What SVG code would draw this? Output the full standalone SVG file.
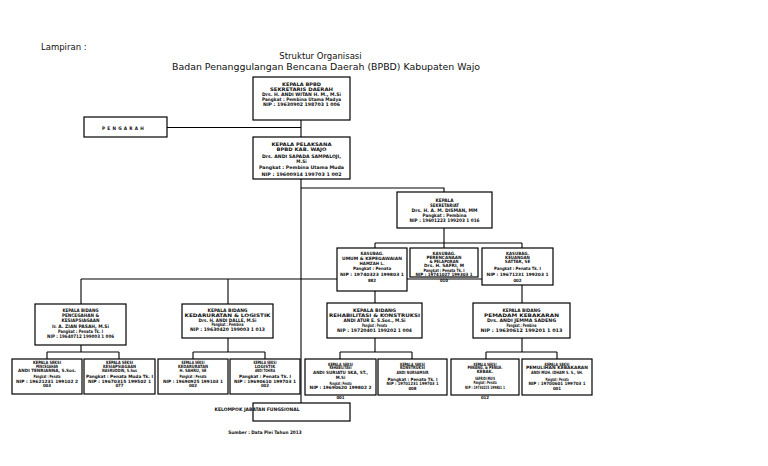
<svg xmlns="http://www.w3.org/2000/svg" width="768" height="466" viewBox="0 0 768 466">
<style>
.bg{fill:#fff}
.box{fill:#fff;stroke:#000;stroke-width:1.2}
.ln{fill:none;stroke:#000;stroke-width:1.1}
.hd{font-family:"DejaVu Sans","Liberation Sans",sans-serif;font-size:8.5px;fill:#111}
.t{font-family:"DejaVu Sans Condensed","DejaVu Sans",sans-serif;font-weight:bold;font-size:4.7px;text-anchor:middle;fill:#111}
.s{font-size:4.4px}
</style>
<rect class="bg" x="0" y="0" width="768" height="466"/>
<g id="header">
<text class="hd" x="41" y="50" font-size="7.5">Lampiran :</text>
<text class="hd" x="320.5" y="59" text-anchor="middle">Struktur Organisasi</text>
<text class="hd" x="326" y="70" text-anchor="middle" textLength="308" lengthAdjust="spacingAndGlyphs">Badan Penanggulangan Bencana Daerah (BPBD) Kabupaten Wajo</text>
</g>
<g id="connectors">
<path class="ln" d="M301 120V403"/>
<path class="ln" d="M167 127.5H301"/>
<path class="ln" d="M301 188H444V192"/>
<path class="ln" d="M444 228V243M375 243H522M444 243V248M375 243V303M522 243V303"/>
<path class="ln" d="M81 279H522"/>
<path class="ln" d="M81 279V352M228 279V352"/>
<path class="ln" d="M47 352H119M47 352V359M119 352V359"/>
<path class="ln" d="M193 352H265M193 352V359M265 352V359"/>
<path class="ln" d="M375 338V352M340 352H412M340 352V359M412 352V359"/>
<path class="ln" d="M522 338V352M486 352H557M486 352V359M557 352V359"/>
</g>
<g id="kepala-bpbd">
<rect class="box" x="253" y="77" width="97" height="43"/>
<text class="t" x="301.5" y="85.5" textLength="39" lengthAdjust="spacingAndGlyphs">KEPALA BPBD</text>
<text class="t" x="301.5" y="90.5" textLength="63" lengthAdjust="spacingAndGlyphs">SEKRETARIS DAERAH</text>
<text class="t" x="301.5" y="95.5" textLength="79" lengthAdjust="spacingAndGlyphs">Drs. H. ANDI WITAN H. M., M.Si</text>
<text class="t" x="301.5" y="100.5" textLength="79" lengthAdjust="spacingAndGlyphs">Pangkat : Pembina Utama Madya</text>
<text class="t" x="301.5" y="105.5" textLength="77" lengthAdjust="spacingAndGlyphs">NIP : 19630902 198703 1 006</text>
</g>
<g id="pengarah">
<rect class="box" x="84" y="117" width="83" height="20"/>
<text class="t" x="124" y="129.5" font-size="5" letter-spacing="2.2">PENGARAH</text>
</g>
<g id="kepala-pelaksana">
<rect class="box" x="253" y="137" width="97" height="42"/>
<text class="t" x="301.5" y="146" textLength="60" lengthAdjust="spacingAndGlyphs">KEPALA PELAKSANA</text>
<text class="t" x="301.5" y="151" textLength="50" lengthAdjust="spacingAndGlyphs">BPBD KAB. WAJO</text>
<text class="t" x="301.5" y="157.5" textLength="79" lengthAdjust="spacingAndGlyphs">Drs. ANDI SAPADA SAMPALOJI,</text>
<text class="t" x="301.5" y="163">M.Si</text>
<text class="t" x="301.5" y="169" textLength="85" lengthAdjust="spacingAndGlyphs">Pangkat : Pembina Utama Muda</text>
<text class="t" x="301.5" y="175.5" textLength="80" lengthAdjust="spacingAndGlyphs">NIP : 19600914 199703 1 002</text>
</g>
<g id="sekretariat">
<rect class="box" x="397" y="192" width="95" height="36"/>
<text class="t" x="444.5" y="201.5">KEPALA</text>
<text class="t" x="444.5" y="206.5" textLength="29" lengthAdjust="spacingAndGlyphs">SEKRETARIAT</text>
<text class="t" x="444.5" y="211.5" textLength="66" lengthAdjust="spacingAndGlyphs">Drs. H. A. M. DISMAN, MM</text>
<text class="t" x="444.5" y="216.5" textLength="44" lengthAdjust="spacingAndGlyphs">Pangkat : Pembina</text>
<text class="t" x="444.5" y="221.5" textLength="70" lengthAdjust="spacingAndGlyphs">NIP : 19601223 199203 1 016</text>
</g>
<g id="kasubag-umum">
<rect class="box" x="337" y="248" width="70" height="43"/>
<text class="t s" x="372" y="254.8">KASUBAG.</text>
<text class="t s" x="372" y="259.8" textLength="60" lengthAdjust="spacingAndGlyphs">UMUM &amp; KEPEGAWAIAN</text>
<text class="t s" x="372" y="264.8">HAMZAH L.</text>
<text class="t s" x="372" y="269.8">Pangkat : Penata</text>
<text class="t s" x="372" y="275.8" textLength="64" lengthAdjust="spacingAndGlyphs">NIP : 19740323 199803 1</text>
<text class="t s" x="372" y="281.5">882</text>
</g>
<g id="kasubag-perencanaan">
<rect class="box" x="410" y="248" width="68" height="29"/>
<text class="t s" x="444" y="254.8">KASUBAG.</text>
<text class="t s" x="444" y="258.8" textLength="35" lengthAdjust="spacingAndGlyphs">PERENCANAAN</text>
<text class="t s" x="444" y="262.5" textLength="29" lengthAdjust="spacingAndGlyphs">&amp; PELAPORAN</text>
<text class="t s" x="444" y="266.5" textLength="40" lengthAdjust="spacingAndGlyphs">Drs. H. SAFRI, M</text>
<text class="t s" x="444" y="271.5" textLength="41" lengthAdjust="spacingAndGlyphs">Pangkat : Penata Tk. I</text>
<text class="t s" x="444" y="275.8" textLength="57" lengthAdjust="spacingAndGlyphs">NIP : 19741027 199303 1</text>
<text class="t s" x="444" y="281.5">010</text>
</g>
<g id="kasubag-keuangan">
<rect class="box" x="482" y="248" width="71" height="37"/>
<text class="t s" x="517.5" y="254.8">KASUBAG.</text>
<text class="t s" x="517.5" y="258.8">KEUANGAN</text>
<text class="t s" x="517.5" y="263.2">SATTAR, SE</text>
<text class="t s" x="517.5" y="269.8" textLength="47" lengthAdjust="spacingAndGlyphs">Pangkat : Penata Tk. I</text>
<text class="t s" x="517.5" y="275.8" textLength="62" lengthAdjust="spacingAndGlyphs">NIP : 19671231 199203 1</text>
<text class="t s" x="517.5" y="281.5">002</text>
</g>
<g id="bidang-pencegahan">
<rect class="box" x="35" y="304" width="91" height="41"/>
<text class="t" x="80.5" y="311.7" textLength="36" lengthAdjust="spacingAndGlyphs">KEPALA BIDANG</text>
<text class="t" x="80.5" y="316.7" textLength="37" lengthAdjust="spacingAndGlyphs">PENCEGAHAN &amp;</text>
<text class="t" x="80.5" y="322.3" textLength="38" lengthAdjust="spacingAndGlyphs">KESIAPSIAGAAN</text>
<text class="t" x="80.5" y="327.7" textLength="57" lengthAdjust="spacingAndGlyphs">Ir. A. ZIAN PASAH, M.Si</text>
<text class="t" x="80.5" y="332.7" textLength="45" lengthAdjust="spacingAndGlyphs">Pangkat : Penata Tk. I</text>
<text class="t" x="80.5" y="338.3" textLength="67" lengthAdjust="spacingAndGlyphs">NIP : 19640712 199003 1 006</text>
</g>
<g id="bidang-kedaruratan">
<rect class="box" x="182" y="304" width="91" height="34"/>
<text class="t" x="227.5" y="311.7" textLength="40" lengthAdjust="spacingAndGlyphs">KEPALA BIDANG</text>
<text class="t" x="227.5" y="316.7" textLength="86" lengthAdjust="spacingAndGlyphs">KEDARURATAN &amp; LOGISTIK</text>
<text class="t" x="227.5" y="321.7" textLength="58" lengthAdjust="spacingAndGlyphs">Drs. H. ANDI DALLE, M.Si</text>
<text class="t" x="227.5" y="326" textLength="32" lengthAdjust="spacingAndGlyphs">Pangkat : Pembina</text>
<text class="t" x="227.5" y="330.7" textLength="75" lengthAdjust="spacingAndGlyphs">NIP : 19630420 199003 1 013</text>
</g>
<g id="bidang-rehabilitasi">
<rect class="box" x="327" y="303" width="95" height="35"/>
<text class="t" x="374.5" y="311.7" textLength="43" lengthAdjust="spacingAndGlyphs">KEPALA BIDANG</text>
<text class="t" x="374.5" y="316.7" textLength="91" lengthAdjust="spacingAndGlyphs">REHABILITASI &amp; KONSTRUKSI</text>
<text class="t" x="374.5" y="321.7" textLength="62" lengthAdjust="spacingAndGlyphs">ANDI ATUR E. S.Sos., M.Si</text>
<text class="t" x="374.5" y="326.7" textLength="25" lengthAdjust="spacingAndGlyphs">Pangkat : Penata</text>
<text class="t" x="374.5" y="331.7" textLength="75" lengthAdjust="spacingAndGlyphs">NIP : 19720401 199202 1 004</text>
</g>
<g id="bidang-pemadam">
<rect class="box" x="473" y="303" width="97" height="35"/>
<text class="t" x="521.5" y="311.7" textLength="38" lengthAdjust="spacingAndGlyphs">KEPALA BIDANG</text>
<text class="t" x="521.5" y="316.7" textLength="75" lengthAdjust="spacingAndGlyphs">PEMADAM KEBAKARAN</text>
<text class="t" x="521.5" y="321.7" textLength="69" lengthAdjust="spacingAndGlyphs">Drs. ANDI JEMMA SADENG</text>
<text class="t" x="521.5" y="326.7" textLength="30" lengthAdjust="spacingAndGlyphs">Pangkat : Pembina</text>
<text class="t" x="521.5" y="331.7" textLength="82" lengthAdjust="spacingAndGlyphs">NIP : 19630612 199201 1 013</text>
</g>
<g id="seksi-pencegahan">
<rect class="box" x="12" y="359" width="70" height="35"/>
<text class="t s" x="47" y="363.8" textLength="28" lengthAdjust="spacingAndGlyphs">KEPALA SEKSI</text>
<text class="t s" x="47" y="367.5" textLength="22" lengthAdjust="spacingAndGlyphs">PENCEGAHAN</text>
<text class="t s" x="47" y="371.5" textLength="58" lengthAdjust="spacingAndGlyphs">ANDI TENRIANNA, S.Sos.</text>
<text class="t s" x="47" y="378.2" textLength="27" lengthAdjust="spacingAndGlyphs">Pangkat : Penata</text>
<text class="t s" x="47" y="382.5" textLength="62" lengthAdjust="spacingAndGlyphs">NIP : 19621231 199102 2</text>
<text class="t s" x="47" y="387.2">003</text>
</g>
<g id="seksi-kesiapsiagaan">
<rect class="box" x="84" y="359" width="71" height="35"/>
<text class="t s" x="119.5" y="363.8" textLength="27" lengthAdjust="spacingAndGlyphs">KEPALA SEKSI</text>
<text class="t s" x="119.5" y="367.5" textLength="33" lengthAdjust="spacingAndGlyphs">KESIAPSIAGAAN</text>
<text class="t s" x="119.5" y="371.5" textLength="35" lengthAdjust="spacingAndGlyphs">NASRUDDIN, S.Sos</text>
<text class="t s" x="119.5" y="378.2" textLength="67" lengthAdjust="spacingAndGlyphs">Pangkat : Penata Muda Tk. I</text>
<text class="t s" x="119.5" y="382.5" textLength="63" lengthAdjust="spacingAndGlyphs">NIP : 19670315 199502 1</text>
<text class="t s" x="119.5" y="387.2">077</text>
</g>
<g id="seksi-kedaruratan">
<rect class="box" x="158" y="359" width="70" height="35"/>
<text class="t s" x="193" y="363.8" textLength="23" lengthAdjust="spacingAndGlyphs">KEPALA SEKSI</text>
<text class="t s" x="193" y="367.5" textLength="30" lengthAdjust="spacingAndGlyphs">KEDARURATAN</text>
<text class="t s" x="193" y="371.5" textLength="27" lengthAdjust="spacingAndGlyphs">H. SAHRU, SE</text>
<text class="t s" x="193" y="378.2" textLength="27" lengthAdjust="spacingAndGlyphs">Pangkat : Penata</text>
<text class="t s" x="193" y="382.5" textLength="60" lengthAdjust="spacingAndGlyphs">NIP : 19690925 199103 1</text>
<text class="t s" x="193" y="387.2">002</text>
</g>
<g id="seksi-logistik">
<rect class="box" x="230" y="359" width="70" height="35"/>
<text class="t s" x="265" y="363.8" textLength="23" lengthAdjust="spacingAndGlyphs">KEPALA SEKSI</text>
<text class="t s" x="265" y="367.5">LOGISTIK</text>
<text class="t s" x="265" y="371.5" textLength="20" lengthAdjust="spacingAndGlyphs">ANDI TOHIRA</text>
<text class="t s" x="265" y="378.2" textLength="52" lengthAdjust="spacingAndGlyphs">Pangkat : Penata Tk. I</text>
<text class="t s" x="265" y="382.5" textLength="62" lengthAdjust="spacingAndGlyphs">NIP : 19690610 199703 1</text>
<text class="t s" x="265" y="387.2">002</text>
</g>
<g id="seksi-rehabilitasi">
<rect class="box" x="305" y="359" width="71" height="36"/>
<text class="t s" x="340.5" y="365.5" textLength="25" lengthAdjust="spacingAndGlyphs">KEPALA SEKSI</text>
<text class="t s" x="340.5" y="369.2" textLength="22" lengthAdjust="spacingAndGlyphs">REHABILITASI</text>
<text class="t s" x="340.5" y="373.8" textLength="55" lengthAdjust="spacingAndGlyphs">ANDI SURIATU SKA, ST.,</text>
<text class="t s" x="340.5" y="378.8">M.Si</text>
<text class="t s" x="340.5" y="384.8" textLength="22" lengthAdjust="spacingAndGlyphs">Pangkat : Penata</text>
<text class="t s" x="340.5" y="388.8" textLength="62" lengthAdjust="spacingAndGlyphs">NIP : 19690620 199802 2</text>
<text class="t s" x="340.5" y="398.5">001</text>
</g>
<g id="seksi-konstruksi">
<rect class="box" x="378" y="359" width="69" height="36"/>
<text class="t s" x="412.5" y="365.5" textLength="25" lengthAdjust="spacingAndGlyphs">KEPALA SEKSI</text>
<text class="t s" x="412.5" y="369.2" textLength="25" lengthAdjust="spacingAndGlyphs">KONSTRUKSI</text>
<text class="t s" x="412.5" y="373.8" textLength="32" lengthAdjust="spacingAndGlyphs">ANDI NURSAMSIR</text>
<text class="t s" x="412.5" y="381" textLength="50" lengthAdjust="spacingAndGlyphs">Pangkat : Penata Tk. I</text>
<text class="t s" x="412.5" y="385.2" textLength="52" lengthAdjust="spacingAndGlyphs">NIP : 19701231 199703 1</text>
<text class="t s" x="412.5" y="390">008</text>
</g>
<g id="seksi-penanggulangan">
<rect class="box" x="451" y="359" width="68" height="36"/>
<text class="t s" x="485" y="365.5" textLength="23" lengthAdjust="spacingAndGlyphs">KEPALA SEKSI</text>
<text class="t s" x="485" y="369.2" textLength="35" lengthAdjust="spacingAndGlyphs">PENANG. &amp; PENGE.</text>
<text class="t s" x="485" y="373.2">KEBAK.</text>
<text class="t s" x="485" y="380" textLength="20" lengthAdjust="spacingAndGlyphs">SAFRIDI MUIS</text>
<text class="t s" x="485" y="384.2" textLength="23" lengthAdjust="spacingAndGlyphs">Pangkat : Penata</text>
<text class="t s" x="485" y="388.5" textLength="40" lengthAdjust="spacingAndGlyphs">NIP : 19730215 199801 1</text>
<text class="t s" x="485" y="398.5">012</text>
</g>
<g id="seksi-pemulihan">
<rect class="box" x="522" y="359" width="70" height="36"/>
<text class="t s" x="557" y="365.5" textLength="25" lengthAdjust="spacingAndGlyphs">KEPALA SEKSI</text>
<text class="t s" x="557" y="369.2" textLength="62" lengthAdjust="spacingAndGlyphs">PEMULIHAN KEBAKARAN</text>
<text class="t s" x="557" y="373.8" textLength="52" lengthAdjust="spacingAndGlyphs">ANDI MUH. IDHAM S. S., SH.</text>
<text class="t s" x="557" y="381" textLength="23" lengthAdjust="spacingAndGlyphs">Pangkat : Penata</text>
<text class="t s" x="557" y="385.2" textLength="57" lengthAdjust="spacingAndGlyphs">NIP : 19700601 199703 1</text>
<text class="t s" x="557" y="390">001</text>
</g>
<g id="kelompok-jabatan">
<rect class="box" x="253" y="403" width="97" height="18"/>
<text class="t" x="257" y="411" text-anchor="start" textLength="85" lengthAdjust="spacingAndGlyphs">KELOMPOK JABATAN FUNGSIONAL</text>
</g>
<g id="sumber">
<text class="t" x="265" y="434" text-anchor="start" font-size="5.5">Sumber : Data Plei Tahun 2013</text>
</g>
</svg>
